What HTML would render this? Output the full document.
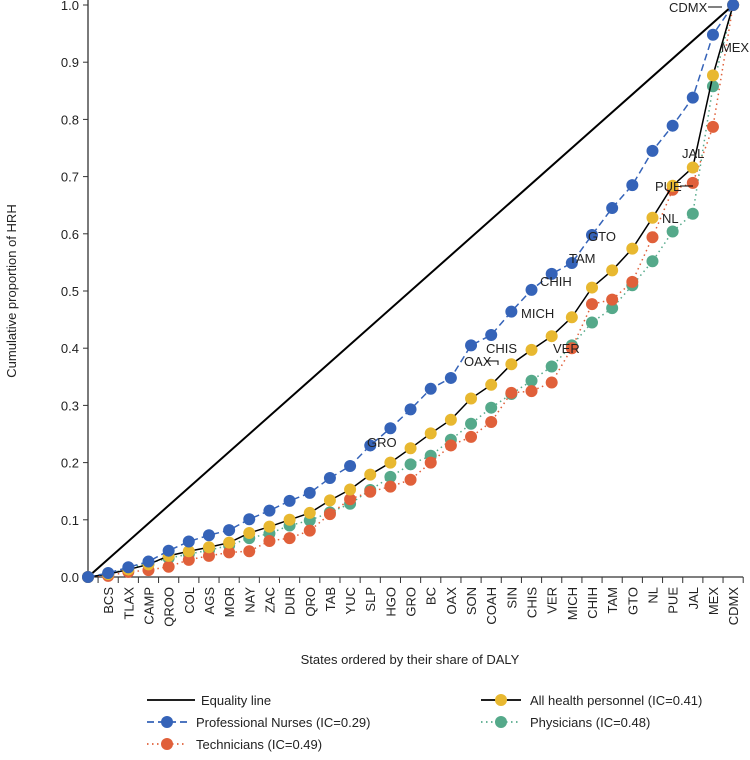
<!DOCTYPE html>
<html><head><meta charset="utf-8"><style>
body{margin:0;background:#fff;}
svg text{font-family:"Liberation Sans",sans-serif;fill:#222;}
</style></head><body>
<svg id="chart" width="750" height="755">
<g id="grid"></g><g id="marks"></g><g id="ann"></g><g id="legend"></g>
</svg>
<script>
const categories=["","BCS","TLAX","CAMP","QROO","COL","AGS","MOR","NAY","ZAC","DUR","QRO","TAB","YUC","SLP","HGO","GRO","BC","OAX","SON","COAH","SIN","CHIS","VER","MICH","CHIH","TAM","GTO","NL","PUE","JAL","MEX","CDMX"];
const nurses=[0,0.007,0.017,0.027,0.046,0.062,0.073,0.082,0.101,0.116,0.133,0.147,0.173,0.194,0.23,0.26,0.293,0.329,0.348,0.405,0.423,0.464,0.502,0.53,0.549,0.598,0.645,0.685,0.745,0.789,0.838,0.948,1];
const allPersonnel=[0,0.005,0.013,0.022,0.037,0.045,0.052,0.06,0.077,0.088,0.1,0.112,0.134,0.153,0.179,0.2,0.225,0.251,0.275,0.312,0.336,0.372,0.397,0.421,0.454,0.506,0.536,0.574,0.628,0.684,0.716,0.877,1];
const physicians=[0,0.005,0.015,0.024,0.033,0.04,0.047,0.055,0.068,0.076,0.09,0.099,0.113,0.128,0.152,0.175,0.197,0.212,0.24,0.268,0.296,0.32,0.343,0.368,0.405,0.445,0.47,0.51,0.552,0.604,0.635,0.858,1];
const technicians=[0,0.002,0.009,0.012,0.018,0.03,0.037,0.043,0.045,0.063,0.068,0.081,0.11,0.136,0.149,0.158,0.17,0.2,0.23,0.245,0.271,0.322,0.325,0.34,0.4,0.477,0.485,0.516,0.594,0.677,0.689,0.787,1];
const yTicks=[0,0.1,0.2,0.3,0.4,0.5,0.6,0.7,0.8,0.9,1.0];
const NS="http://www.w3.org/2000/svg";
const X0=88,DX=20.16,Y0=577,YH=572;
function sx(i){return X0+i*DX;}
function sy(v){return Y0-v*YH;}
function mk(t,a,p){const e=document.createElementNS(NS,t);for(const k in a)e.setAttribute(k,a[k]);document.getElementById(p).appendChild(e);return e;}
let e=mk("line",{x1:X0,y1:0,x2:X0,y2:Y0,stroke:"#333","stroke-width":1.3},"grid");


e=mk("line",{x1:X0,y1:Y0,x2:sx(32)+10,y2:Y0,stroke:"#333","stroke-width":1.3},"grid");


yTicks.forEach(v=>{
 mk("line",{x1:X0-5,y1:sy(v),x2:X0,y2:sy(v),stroke:"#333"},"grid");
 const t=mk("text",{x:X0-9,y:sy(v)+5,"text-anchor":"end","font-size":13},"grid");t.textContent=v.toFixed(1);
 
 
});
for(let i=0;i<=32;i++){mk("line",{x1:sx(i)+DX/2,y1:Y0,x2:sx(i)+DX/2,y2:Y0+6,stroke:"#333"},"grid");}
categories.forEach((c,i)=>{if(!c)return;
 const t=mk("text",{transform:`translate(${sx(i)+5},587) rotate(-90)`,"text-anchor":"end","font-size":13},"grid");t.textContent=c;
 
 
});
e=mk("text",{transform:"translate(16,291) rotate(-90)","text-anchor":"middle","font-size":13},"grid");e.textContent="Cumulative proportion of HRH";


e=mk("text",{x:410,y:664,"text-anchor":"middle","font-size":13},"grid");e.textContent="States ordered by their share of DALY";


e=mk("line",{x1:sx(0),y1:sy(0),x2:sx(32),y2:sy(1),stroke:"#000","stroke-width":2},"marks");


const series=[
 {d:physicians,c:"#55a98a",dash:"1.5,3.5",lc:"#55a98a",n:"physicians"},
 {d:technicians,c:"#e0603a",dash:"1.5,3.5",lc:"#e0603a",n:"technicians"},
 {d:allPersonnel,c:"#e8b830",dash:"",lc:"#000",n:"all-personnel"},
 {d:nurses,c:"#3563b8",dash:"7,4",lc:"#3563b8",n:"nurses"}];
series.forEach(s=>{
 const pts=s.d.map((v,i)=>sx(i)+","+sy(v)).join(" ");
 const l=mk("polyline",{points:pts,fill:"none",stroke:s.lc,"stroke-width":1.5,"stroke-dasharray":s.dash},"marks");
 
 
 s.d.forEach((v,i)=>{const p=mk("circle",{cx:sx(i),cy:sy(v),r:6,fill:s.c},"marks");
  
  });
});
const ann=[["CDMX",669,12],["MEX",721,52],["JAL",682,158],["PUE",655,191],["NL",662,223],["GTO",588,241],["TAM",569,263],["CHIH",540,286],["MICH",521,318],["CHIS",486,353],["VER",553,353],["OAX",464,366],["GRO",367,447]];
ann.forEach(a=>{const t=mk("text",{x:a[1],y:a[2],"font-size":13,textLength:a[0]==="MEX"?28:null},"ann");if(a[0]!=="MEX")t.removeAttribute("textLength");t.textContent=a[0];
 
 });
mk("line",{x1:708,y1:7,x2:722,y2:7,stroke:"#000"},"ann");
mk("line",{x1:680,y1:186,x2:693,y2:186,stroke:"#000"},"ann");
mk("path",{d:"M486,361 h12 v4",stroke:"#000",fill:"none"},"ann");
const leg=[["Equality line",147,700,"#000","",null],["Professional Nurses (IC=0.29)",147,722,"#3563b8","7,4","#3563b8"],["Technicians (IC=0.49)",147,744,"#e0603a","1.5,3.5","#e0603a"],["All health personnel (IC=0.41)",481,700,"#000","","#e8b830"],["Physicians (IC=0.48)",481,722,"#55a98a","1.5,3.5","#55a98a"]];
leg.forEach(l=>{
 const g=mk("g",{},"legend");
 
 
 const ln=document.createElementNS(NS,"line");
 [["x1",l[1]],["y1",l[2]],["x2",l[1]+(l[5]?40:48)],["y2",l[2]],["stroke",l[3]],["stroke-width",1.8],["stroke-dasharray",l[4]]].forEach(a=>ln.setAttribute(a[0],a[1]));g.appendChild(ln);
 if(l[5]){const c=document.createElementNS(NS,"circle");c.setAttribute("cx",l[1]+20);c.setAttribute("cy",l[2]);c.setAttribute("r",6);c.setAttribute("fill",l[5]);g.appendChild(c);}
 const t=document.createElementNS(NS,"text");t.setAttribute("x",l[1]+(l[5]?49:54));t.setAttribute("y",l[2]+5);t.setAttribute("font-size",13);t.textContent=l[0];g.appendChild(t);
});
</script>
</body></html>
